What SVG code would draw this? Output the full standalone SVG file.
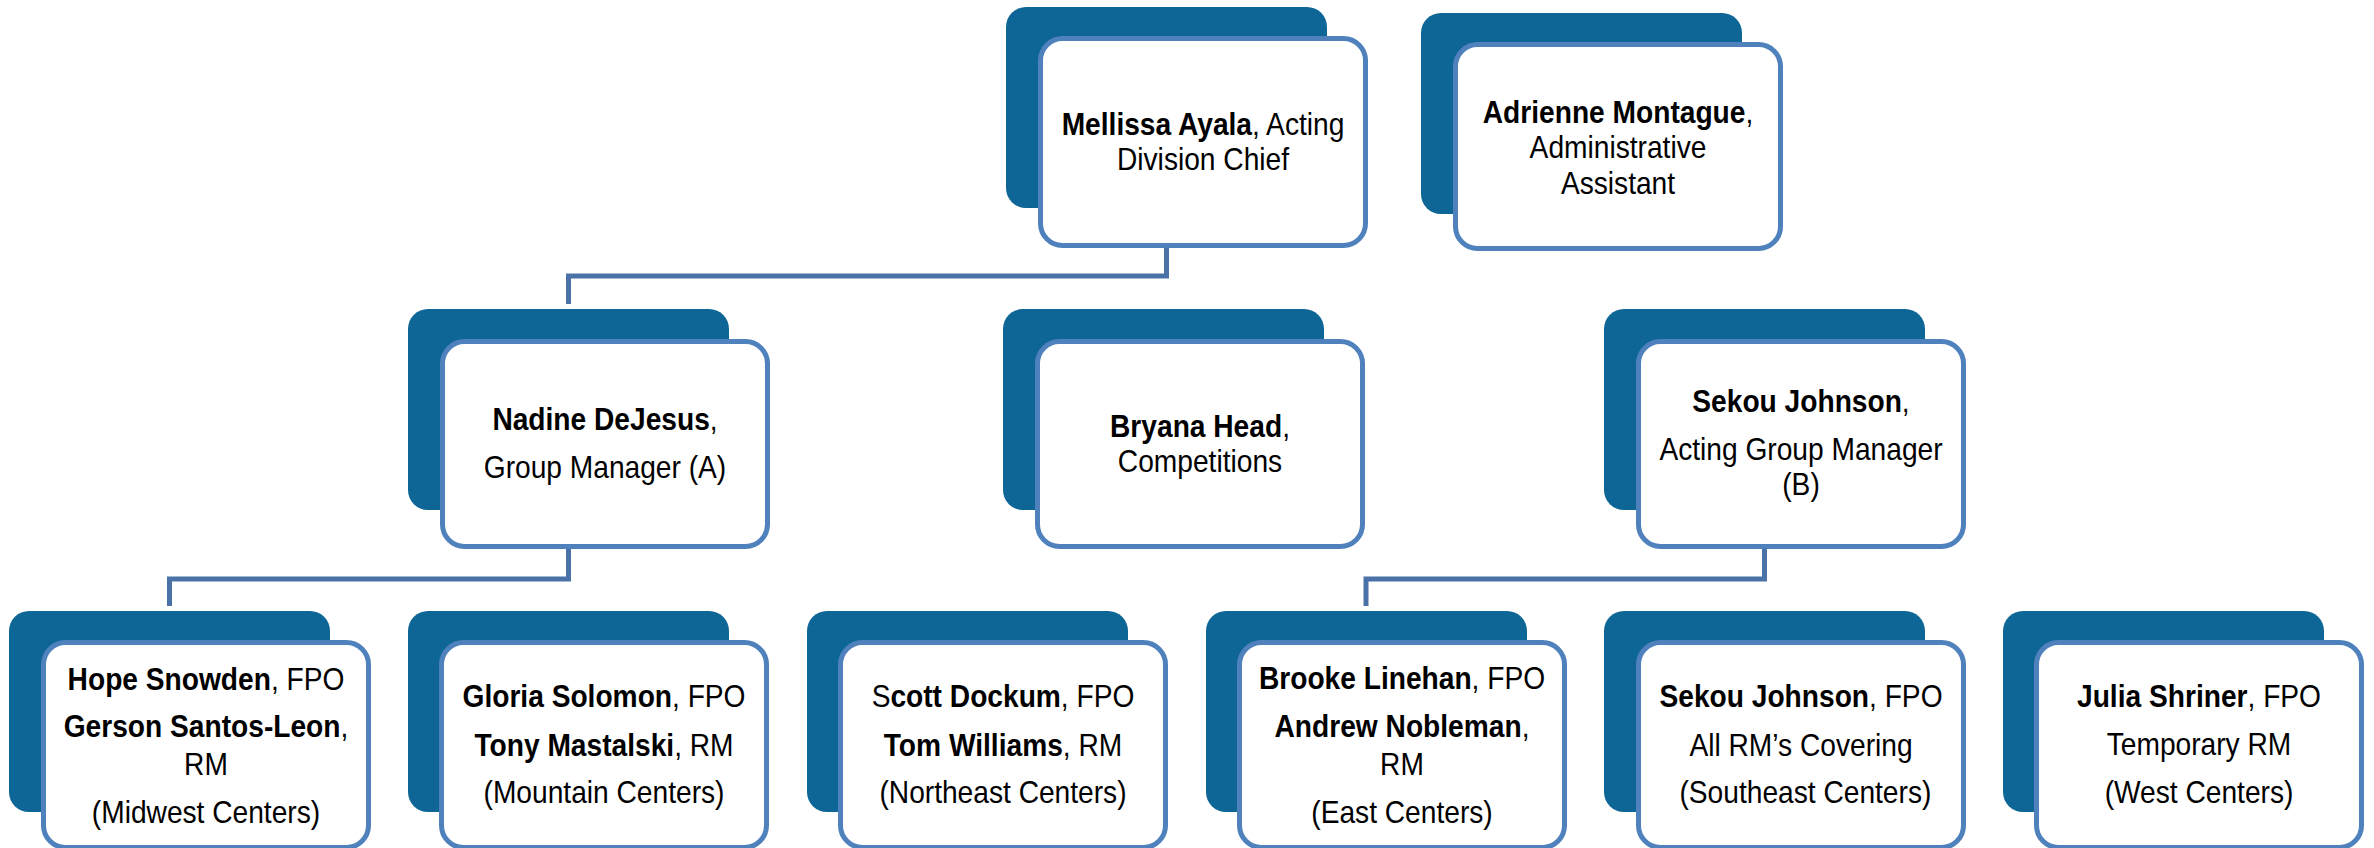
<svg xmlns="http://www.w3.org/2000/svg" width="2374" height="848" viewBox="0 0 2374 848">
  <style>
    .back { fill: #0E6696; }
    .card { fill: #FFFFFF; stroke: #4F81BD; stroke-width: 5; }
    .lbl { font-family: "Liberation Sans", Arial, sans-serif; font-size: 32px; fill: #000000; text-anchor: middle; }
    .b { font-weight: bold; }
    .link { fill: none; stroke: #4A72A8; stroke-width: 5; }
  </style>

  <!-- reporting lines -->
  <g id="connectors">
    <path class="link" d="M1166.5 248 V276 H568.5 V304"/>
    <path class="link" d="M568.5 549 V579 H169.5 V606"/>
    <path class="link" d="M1764.5 549 V579 H1366 V606"/>
  </g>

  <!-- top row -->
  <g id="node-ayala">
    <rect class="back" x="1006" y="7" width="321" height="201" rx="20"/>
    <rect class="card" x="1040.5" y="38.5" width="325" height="207" rx="22"/>
    <g class="lbl" transform="translate(1203 0) scale(0.88 1)">
      <text x="0" y="135"><tspan class="b">Mellissa Ayala</tspan>, Acting</text>
      <text x="0" y="170">Division Chief</text>
    </g>
  </g>

  <g id="node-montague">
    <rect class="back" x="1421" y="13" width="321" height="201" rx="20"/>
    <rect class="card" x="1455.5" y="44.5" width="325" height="204" rx="22"/>
    <g class="lbl" transform="translate(1618 0) scale(0.88 1)">
      <text x="0" y="123"><tspan class="b">Adrienne Montague</tspan>,</text>
      <text x="0" y="158">Administrative</text>
      <text x="0" y="194">Assistant</text>
    </g>
  </g>

  <!-- managers -->
  <g id="node-dejesus">
    <rect class="back" x="408" y="309" width="321" height="201" rx="20"/>
    <rect class="card" x="442.5" y="341.5" width="325" height="205" rx="22"/>
    <g class="lbl" transform="translate(605 0) scale(0.88 1)">
      <text x="0" y="430"><tspan class="b">Nadine DeJesus</tspan>,</text>
      <text x="0" y="478">Group Manager (A)</text>
    </g>
  </g>

  <g id="node-head">
    <rect class="back" x="1003" y="309" width="321" height="201" rx="20"/>
    <rect class="card" x="1037.5" y="341.5" width="325" height="205" rx="22"/>
    <g class="lbl" transform="translate(1200 0) scale(0.88 1)">
      <text x="0" y="437"><tspan class="b">Bryana Head</tspan>,</text>
      <text x="0" y="472">Competitions</text>
    </g>
  </g>

  <g id="node-johnson-gm">
    <rect class="back" x="1604" y="309" width="321" height="201" rx="20"/>
    <rect class="card" x="1638.5" y="341.5" width="325" height="205" rx="22"/>
    <g class="lbl" transform="translate(1801 0) scale(0.88 1)">
      <text x="0" y="412"><tspan class="b">Sekou Johnson</tspan>,</text>
      <text x="0" y="460">Acting Group Manager</text>
      <text x="0" y="495">(B)</text>
    </g>
  </g>

  <!-- regional teams -->
  <g id="node-midwest">
    <rect class="back" x="9" y="611" width="321" height="201" rx="20"/>
    <rect class="card" x="43.5" y="642.5" width="325" height="205" rx="22"/>
    <g class="lbl" transform="translate(206 0) scale(0.88 1)">
      <text x="0" y="690"><tspan class="b">Hope Snowden</tspan>, FPO</text>
      <text x="0" y="737"><tspan class="b">Gerson Santos-Leon</tspan>,</text>
      <text x="0" y="775">RM</text>
      <text x="0" y="823">(Midwest Centers)</text>
    </g>
  </g>

  <g id="node-mountain">
    <rect class="back" x="408" y="611" width="321" height="201" rx="20"/>
    <rect class="card" x="441.5" y="642.5" width="325" height="205" rx="22"/>
    <g class="lbl" transform="translate(604 0) scale(0.88 1)">
      <text x="0" y="707"><tspan class="b">Gloria Solomon</tspan>, FPO</text>
      <text x="0" y="756"><tspan class="b">Tony Mastalski</tspan>, RM</text>
      <text x="0" y="803">(Mountain Centers)</text>
    </g>
  </g>

  <g id="node-northeast">
    <rect class="back" x="807" y="611" width="321" height="201" rx="20"/>
    <rect class="card" x="840.5" y="642.5" width="325" height="205" rx="22"/>
    <g class="lbl" transform="translate(1003 0) scale(0.88 1)">
      <text x="0" y="707">S<tspan class="b">cott Dockum</tspan>, FPO</text>
      <text x="0" y="756"><tspan class="b">Tom Williams</tspan>, RM</text>
      <text x="0" y="803">(Northeast Centers)</text>
    </g>
  </g>

  <g id="node-east">
    <rect class="back" x="1206" y="611" width="321" height="201" rx="20"/>
    <rect class="card" x="1239.5" y="642.5" width="325" height="205" rx="22"/>
    <g class="lbl" transform="translate(1402 0) scale(0.88 1)">
      <text x="0" y="689"><tspan class="b">Brooke Linehan</tspan>, FPO</text>
      <text x="0" y="737"><tspan class="b">Andrew Nobleman</tspan>,</text>
      <text x="0" y="775">RM</text>
      <text x="0" y="823">(East Centers)</text>
    </g>
  </g>

  <g id="node-southeast">
    <rect class="back" x="1604" y="611" width="321" height="201" rx="20"/>
    <rect class="card" x="1638.5" y="642.5" width="325" height="205" rx="22"/>
    <g class="lbl" transform="translate(1801 0) scale(0.88 1)">
      <text x="0" y="707"><tspan class="b">Sekou Johnson</tspan>, FPO</text>
      <text x="0" y="756">All RM’s Covering</text>
      <text x="5" y="803">(Southeast Centers)</text>
    </g>
  </g>

  <g id="node-west">
    <rect class="back" x="2003" y="611" width="321" height="201" rx="20"/>
    <rect class="card" x="2036.5" y="642.5" width="325" height="205" rx="22"/>
    <g class="lbl" transform="translate(2199 0) scale(0.88 1)">
      <text x="0" y="707"><tspan class="b">Julia Shriner</tspan>, FPO</text>
      <text x="0" y="755">Temporary RM</text>
      <text x="0" y="803">(West Centers)</text>
    </g>
  </g>
</svg>
